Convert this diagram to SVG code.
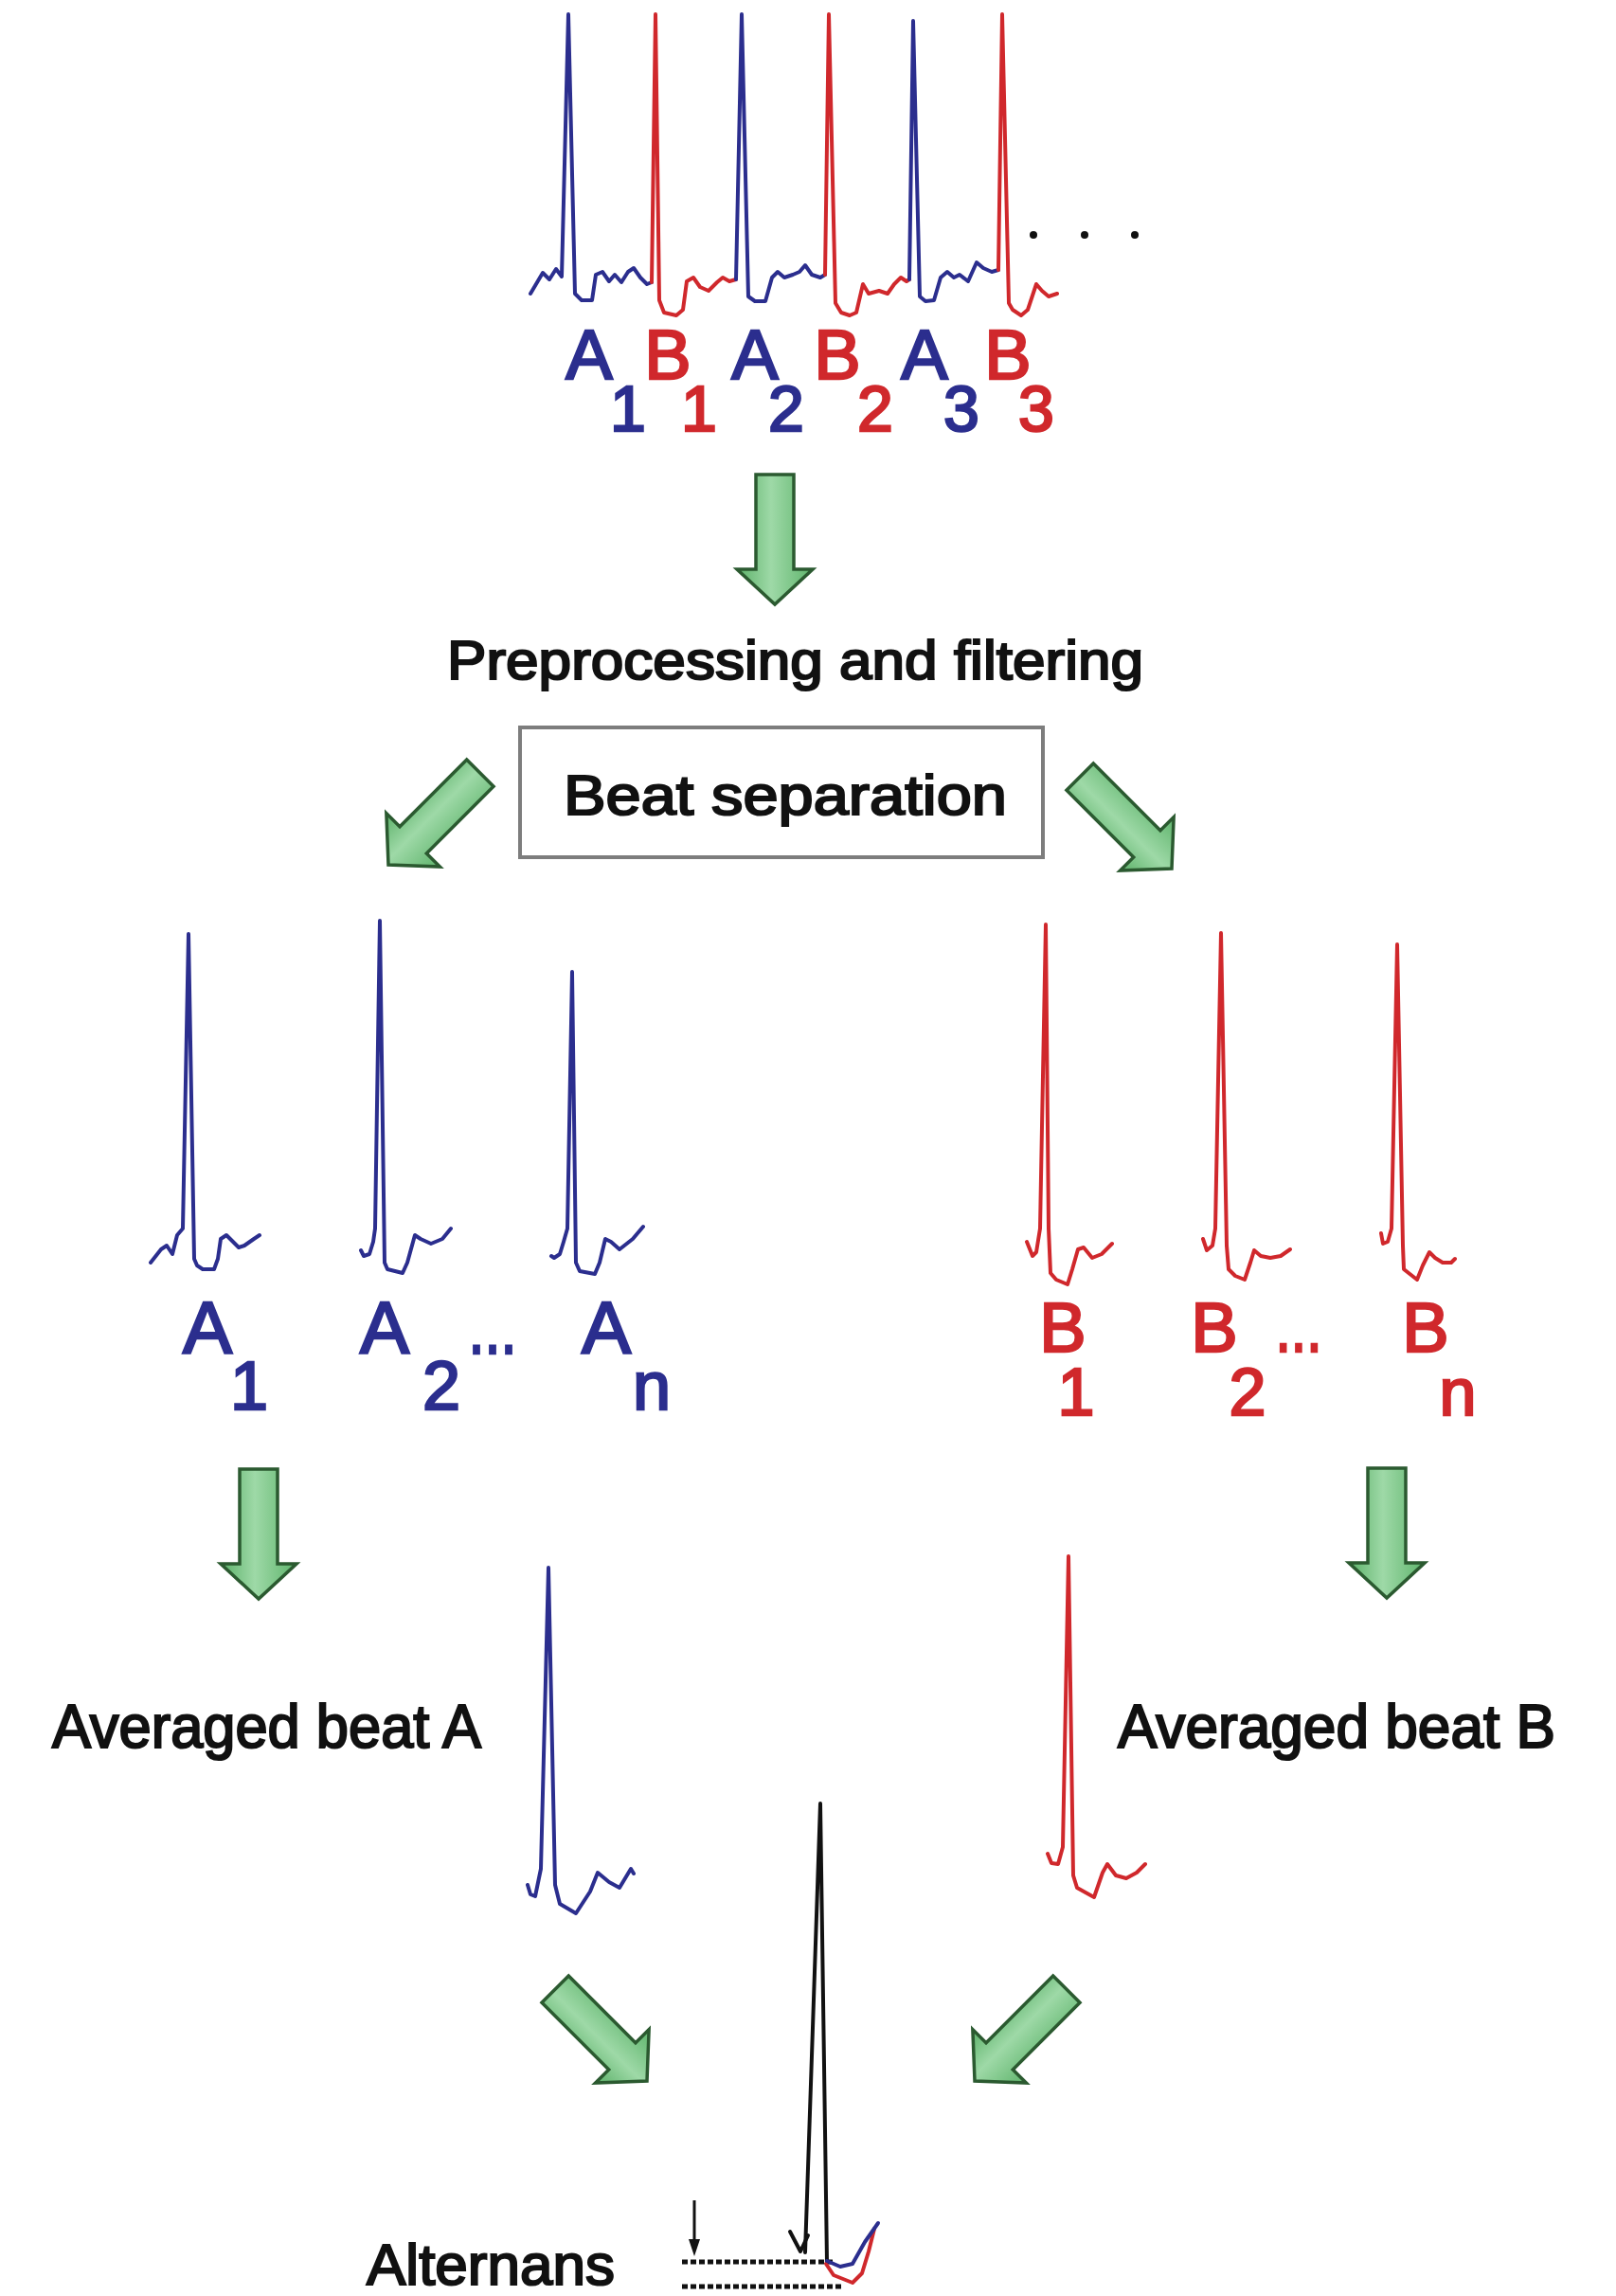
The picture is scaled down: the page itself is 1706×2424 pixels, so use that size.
<svg xmlns="http://www.w3.org/2000/svg" xmlns:xlink="http://www.w3.org/1999/xlink" width="1706" height="2424" viewBox="0 0 1706 2424">
<defs>
<linearGradient id="gfill" x1="0" y1="0" x2="1" y2="0">
<stop offset="0" stop-color="#5cb169"/>
<stop offset="0.45" stop-color="#9ed9a7"/>
<stop offset="1" stop-color="#5fb46c"/>
</linearGradient>
<path id="arr" d="M -20 -137 L 20 -137 L 20 -37 L 40 -37 L 0 0 L -40 -37 L -20 -37 Z" fill="url(#gfill)" stroke="#2b5a30" stroke-width="3.5" stroke-linejoin="miter"/>
</defs>
<style>
.bl{fill:none;stroke:#2b2e8e;stroke-width:4;stroke-linejoin:round;stroke-linecap:round}
.rd{fill:none;stroke:#d0282c;stroke-width:4;stroke-linejoin:round;stroke-linecap:round}
.bk{fill:none;stroke:#111;stroke-width:4;stroke-linejoin:round;stroke-linecap:round}
.lab{font-family:"Liberation Sans",Arial,sans-serif;fill:#111;stroke:#111;stroke-width:2.2}
.tb{font-family:"Liberation Sans",Arial,sans-serif;fill:#2b2e8e;stroke:#2b2e8e;stroke-width:2.5;text-anchor:middle}
.tr{font-family:"Liberation Sans",Arial,sans-serif;fill:#d0282c;stroke:#d0282c;stroke-width:2.5;text-anchor:middle}
</style>
<rect width="1706" height="2424" fill="#fff"/>

<g id="ecg-strip">
<path class="bl" d="M560,310 L573,288 L580,295 L587,284 L593,292 L600,15 L607,310 L614,317 L625,317 L629,290 L636,287 L643,297 L649,290 L656,298 L663,287 L669,283 L676,293 L683,300 L688,298"/>
<path class="rd" d="M688,298 L692,15 L696,317 L701,330 L714,333 L721,327 L725,297 L732,293 L739,303 L748,307 L757,298 L763,293 L770,297 L777,295"/>
<path class="bl" d="M777,295 L783,15 L790,313 L797,318 L808,318 L815,293 L821,287 L828,293 L837,290 L844,287 L850,280 L857,290 L866,293 L871,290"/>
<path class="rd" d="M871,290 L875,15 L882,320 L888,330 L897,333 L904,330 L911,300 L917,310 L928,307 L937,310 L944,300 L951,293 L957,297 L960,295"/>
<path class="bl" d="M960,295 L964,22 L971,313 L977,318 L986,317 L993,293 L1000,287 L1007,293 L1013,290 L1022,297 L1031,277 L1038,283 L1047,287 L1054,285"/>
<path class="rd" d="M1054,285 L1058,15 L1065,320 L1069,327 L1078,333 L1085,327 L1094,300 L1100,307 L1107,313 L1116,310"/>
<circle cx="1091" cy="248" r="4" fill="#111"/>
<circle cx="1145" cy="248" r="4" fill="#111"/>
<circle cx="1198" cy="248" r="4" fill="#111"/>
<g font-size="74">
<text class="tb" x="622" y="400">A</text>
<text class="tr" x="705" y="400">B</text>
<text class="tb" x="797" y="400">A</text>
<text class="tr" x="884" y="400">B</text>
<text class="tb" x="976" y="400">A</text>
<text class="tr" x="1064" y="400">B</text>
</g>
<g font-size="68">
<text class="tb" x="663" y="455">1</text>
<text class="tr" x="738" y="455">1</text>
<text class="tb" x="830" y="455">2</text>
<text class="tr" x="924" y="455">2</text>
<text class="tb" x="1015" y="455">3</text>
<text class="tr" x="1094" y="455">3</text>
</g>
</g>

<g id="preprocessing">
<text class="lab" x="472" y="717" font-size="58" textLength="735" lengthAdjust="spacingAndGlyphs">Preprocessing and filtering</text>
</g>

<g id="beat-separation">
<rect x="549" y="768" width="552" height="137" fill="#fff" stroke="#7d7d7d" stroke-width="4"/>
<text class="lab" x="595" y="860" font-size="60" textLength="468" lengthAdjust="spacingAndGlyphs">Beat separation</text>
</g>

<g id="beats-a">
<path class="bl" d="M159,1333 L170,1319 L176,1315 L182,1324 L187,1304 L193,1297 L199,986 L205,1329 L208,1336 L214,1340 L226,1340 L230,1329 L233,1308 L239,1304 L245,1310 L252,1317 L258,1315 L268,1308 L274,1304"/>
<path class="bl" d="M381,1320 L384,1326 L390,1324 L394,1311 L396,1297 L401,972 L406,1333 L409,1340 L425,1344 L430,1333 L438,1304 L444,1308 L455,1313 L467,1308 L476,1297"/>
<path class="bl" d="M582,1326 L585,1328 L591,1324 L595,1311 L599,1297 L604,1026 L608,1333 L612,1342 L628,1345 L633,1333 L639,1308 L645,1311 L654,1319 L668,1308 L679,1295"/>
<text class="tb" x="219" y="1429" font-size="78">A</text>
<text class="tb" x="263" y="1488" font-size="72">1</text>
<text class="tb" x="406" y="1429" font-size="78">A</text>
<text class="tb" x="466" y="1488" font-size="72">2</text>
<text class="tb" x="520" y="1429" font-size="78" textLength="51" lengthAdjust="spacingAndGlyphs">...</text>
<text class="tb" x="640" y="1429" font-size="78">A</text>
<text class="tb" x="688" y="1488" font-size="72">n</text>
</g>

<g id="beats-b">
<path class="rd" d="M1084,1311 L1090,1326 L1094,1322 L1098,1297 L1104,976 L1107,1297 L1109,1344 L1115,1351 L1127,1356 L1132,1340 L1138,1319 L1144,1317 L1153,1328 L1163,1324 L1174,1313"/>
<path class="rd" d="M1270,1308 L1274,1320 L1280,1315 L1283,1297 L1289,985 L1295,1315 L1297,1340 L1304,1347 L1314,1351 L1320,1333 L1324,1320 L1331,1326 L1341,1328 L1352,1326 L1362,1319"/>
<path class="rd" d="M1458,1302 L1460,1313 L1465,1311 L1469,1297 L1475,997 L1481,1315 L1482,1340 L1496,1351 L1502,1336 L1509,1322 L1515,1328 L1523,1333 L1532,1333 L1536,1329"/>
<text class="tr" x="1122" y="1427" font-size="74">B</text>
<text class="tr" x="1136" y="1494" font-size="70">1</text>
<text class="tr" x="1282" y="1427" font-size="74">B</text>
<text class="tr" x="1371" y="1427" font-size="74" textLength="49" lengthAdjust="spacingAndGlyphs">...</text>
<text class="tr" x="1317" y="1494" font-size="70">2</text>
<text class="tr" x="1505" y="1427" font-size="74">B</text>
<text class="tr" x="1539" y="1494" font-size="70">n</text>
</g>

<g id="averaged-a">
<text class="lab" x="55" y="1845" font-size="64" textLength="453" lengthAdjust="spacingAndGlyphs">Averaged beat A</text>
<path class="bl" d="M557,1990 L560,2000 L565,2002 L571,1973 L579,1655 L586,1990 L591,2010 L608,2020 L623,1997 L631,1977 L643,1987 L654,1993 L666,1973 L669,1978"/>
</g>

<g id="averaged-b">
<text class="lab" x="1180" y="1845" font-size="64" textLength="462" lengthAdjust="spacingAndGlyphs">Averaged beat B</text>
<path class="rd" d="M1106,1957 L1110,1967 L1117,1968 L1122,1950 L1128,1643 L1133,1980 L1137,1993 L1155,2003 L1164,1977 L1169,1968 L1178,1980 L1189,1983 L1200,1977 L1209,1968"/>
</g>

<g id="alternans">
<text class="lab" x="387" y="2412" font-size="62" textLength="262" lengthAdjust="spacingAndGlyphs">Alternans</text>
<path class="bk" d="M850,2378 L866,1904 L873,2388"/>
<path class="bk" d="M834,2356 L845,2377 L853,2360" stroke-width="3"/>
<line x1="733" y1="2323" x2="733" y2="2370" stroke="#111" stroke-width="3"/>
<polygon points="727,2364 739,2364 733,2382" fill="#111"/>
<line x1="720" y1="2388" x2="880" y2="2388" stroke="#111" stroke-width="5" stroke-dasharray="6 3"/>
<line x1="720" y1="2414" x2="890" y2="2414" stroke="#111" stroke-width="5" stroke-dasharray="6 3"/>
<path class="rd" d="M872,2390 L880,2402 L900,2410 L910,2400 L917,2377 L923,2353" stroke-width="3"/>
<path class="bl" d="M873,2387 L887,2393 L900,2390 L913,2367 L927,2347" stroke-width="3"/>
</g>

<g id="connectors">
<use xlink:href="#arr" transform="translate(818,638)"/>
<use xlink:href="#arr" transform="translate(410,913) rotate(45)"/>
<use xlink:href="#arr" transform="translate(1237,917) rotate(-45)"/>
<use xlink:href="#arr" transform="translate(273,1688)"/>
<use xlink:href="#arr" transform="translate(1464,1687)"/>
<use xlink:href="#arr" transform="translate(683,2197) rotate(-45)"/>
<use xlink:href="#arr" transform="translate(1029,2197) rotate(45)"/>
</g>
</svg>
